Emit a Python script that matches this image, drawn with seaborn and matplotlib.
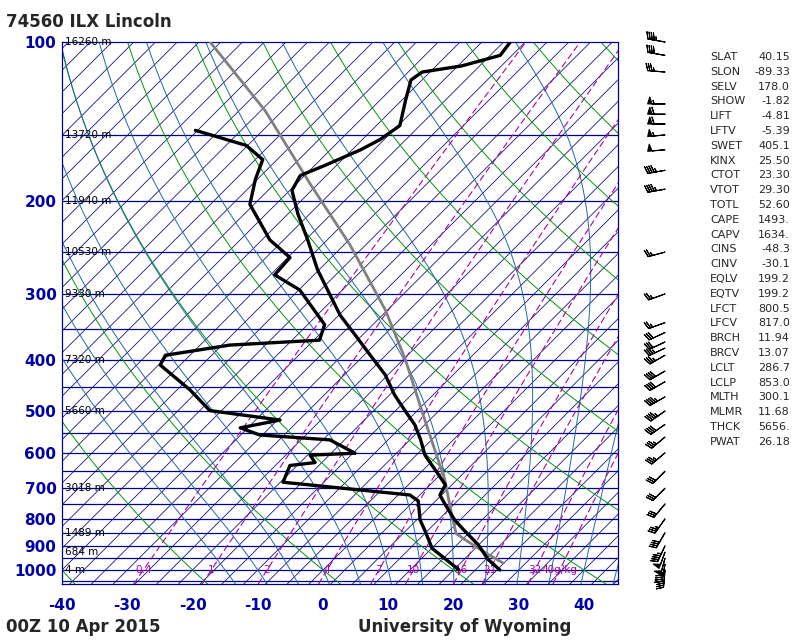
import numpy as np
import pandas as pd
import seaborn as sns
import matplotlib
matplotlib.use("Agg")
import matplotlib.pyplot as plt

sns.set_style("white")
plt.rcParams['font.family'] = ['DejaVu Sans']

# ---- sounding data ----
temp_p = [1000, 954, 897, 837, 804, 752, 721, 690, 647, 606, 567, 531, 499, 466, 427, 392, 359, 329, 302, 270, 237, 212, 191, 179, 171, 160, 153, 144, 129, 118, 114, 111, 106, 100]
temp_t = [27.1, 23.6, 20.0, 15.2, 12.5, 8.7, 6.4, 5.7, 1.9, -2.0, -5.0, -8.2, -11.9, -15.9, -20.4, -25.7, -31.1, -36.5, -41.0, -46.9, -53.0, -58.4, -63.0, -64.0, -61.7, -58.7, -57.3, -56.4, -59.4, -61.7, -61.2, -56.1, -51.8, -52.3]
dew_p = [998, 910, 841, 804, 740, 721, 682, 634, 626, 606, 601, 567, 555, 538, 520, 499, 456, 409, 392, 375, 367, 343, 295, 276, 256, 237, 203, 182, 167, 157, 147]
dew_t = [20.7, 13.4, 9.5, 7.2, 4.0, 1.8, -19.6, -21.1, -17.7, -19.6, -13.0, -18.9, -30.4, -34.5, -29.6, -41.8, -48.0, -56.4, -57.1, -48.8, -35.8, -37.4, -46.5, -52.7, -53.0, -58.8, -67.3, -70.3, -72.2, -76.9, -87.0]
parcel_p = [970, 930, 880, 853, 800, 676, 520, 400, 322, 242, 186, 135, 100]
parcel_t = [26.5, 22.5, 17.5, 14.8, 12.0, 4.9, -7.4, -19.6, -30.3, -45.8, -61.1, -79.3, -98.3]

height_p = [100, 150, 200, 250, 300, 400, 500, 700, 850, 925, 1000]
height_lbl = ["16260 m", "13720 m", "11940 m", "10530 m", "9330 m", "7320 m", "5660 m", "3018 m", "1489 m", "684 m", "4 m"]
mix_w = [0.4, 1, 2, 4, 7, 10, 16, 21, 32, 40]
mix_lbl = ["0.4", "1", "2", "4", "7", "10", "16", "21", "32", "40g/kg"]

barb_p = [100, 106, 114, 131, 137, 143, 150, 160, 175, 190, 250, 300, 340, 355, 370, 380, 392, 420, 440, 470, 500, 530, 560, 600, 650, 700, 750, 800, 850, 900, 925, 950, 975, 1000]
barb_spd = [45, 40, 35, 55, 60, 60, 55, 50, 45, 45, 25, 25, 25, 30, 30, 35, 35, 40, 40, 45, 45, 40, 35, 35, 30, 30, 30, 35, 40, 45, 50, 50, 45, 40]
barb_dir = [280, 280, 275, 270, 270, 270, 265, 265, 260, 260, 255, 250, 250, 245, 245, 245, 240, 240, 240, 240, 235, 235, 230, 230, 225, 225, 220, 215, 210, 205, 200, 195, 190, 185]

stat_names = ["SLAT", "SLON", "SELV", "SHOW", "LIFT", "LFTV", "SWET", "KINX", "CTOT", "VTOT", "TOTL", "CAPE", "CAPV", "CINS", "CINV", "EQLV", "EQTV", "LFCT", "LFCV", "BRCH", "BRCV", "LCLT", "LCLP", "MLTH", "MLMR", "THCK", "PWAT"]
stat_vals = ["40.15", "-89.33", "178.0", "-1.82", "-4.81", "-5.39", "405.1", "25.50", "23.30", "29.30", "52.60", "1493.", "1634.", "-48.3", "-30.1", "199.2", "199.2", "800.5", "817.0", "11.94", "13.07", "286.7", "853.0", "300.1", "11.68", "5656.", "26.18"]

SKEW = 81.0
def sk(t, p):
    return np.asarray(t) + SKEW * np.log10(1000.0 / np.asarray(p))

fig = plt.figure(figsize=(8, 6.4), dpi=100)
ax = fig.add_axes([62/800, 56/640, 556/800, 542/640])
ax.set_yscale('log')
ax.set_ylim(1063, 100)
ax.set_xlim(-40, 45.2)
pp = np.linspace(1063, 100, 300)

for p in range(150, 1051, 50):
    ax.axhline(p, color='#000088', lw=0.9, zorder=1)
for t in np.arange(-130, 60, 10/3):
    ax.plot(sk(np.full_like(pp, t), pp), pp, color='#000080', lw=0.55, zorder=1)
for th in range(-40, 260, 20):
    T = (th + 273.15) * (pp / 1000.0) ** 0.2857 - 273.15
    ax.plot(sk(T, pp), pp, color='#009900', lw=0.7, zorder=1)

def esat(T):
    return 6.112 * np.exp(17.67 * T / (T + 243.5))
def moist(t0):
    res = {}
    for direction in (-1, 1):
        T = t0 + 273.15
        p = 1000.0
        out = []
        while 100 <= p <= 1063:
            out.append((p, T - 273.15))
            es = esat(T - 273.15)
            rs = 0.622 * es / (p - es)
            dTdp = (287 * T + 2.5e6 * rs) / (1004 + 2.5e6**2 * rs * 0.622 / (287 * T * T)) / p
            dp = 2.0 * direction
            T += dTdp * dp
            p += dp
        res[direction] = out
    pts = sorted(res[-1] + res[1], key=lambda a: a[0])
    return np.array([a[0] for a in pts]), np.array([a[1] for a in pts])
for t0 in range(-15, 46, 5):
    mp, mt = moist(t0)
    ax.plot(sk(mt, mp), mp, color='#2266aa', lw=0.7, zorder=1)

pm = np.linspace(1063, 100, 200)
for w, lbl in zip(mix_w, mix_lbl):
    e = w * pm / (622 + w)
    le = np.log(e / 6.112)
    Td = 243.5 * le / (17.67 - le)
    ax.plot(sk(Td, pm), pm, color='#aa00aa', lw=0.8, ls=(0, (6, 3)), zorder=1)
    e1 = w * 1000 / (622 + w); l1 = np.log(e1 / 6.112)
    ax.text(243.5 * l1 / (17.67 - l1), 1000, lbl, color='#aa00aa', fontsize=7.5, ha='center', va='center', zorder=3)

dfT = pd.DataFrame({'x': sk(temp_t, temp_p), 'p': temp_p})
dfD = pd.DataFrame({'x': sk(dew_t, dew_p), 'p': dew_p})
dfP = pd.DataFrame({'x': sk(parcel_t, parcel_p), 'p': parcel_p})
sns.lineplot(data=dfP, x='x', y='p', sort=False, color='#808080', lw=2, ax=ax, zorder=4)
sns.lineplot(data=dfT, x='x', y='p', sort=False, color='black', lw=2.4, ax=ax, zorder=5)
sns.lineplot(data=dfD, x='x', y='p', sort=False, color='black', lw=2.4, ax=ax, zorder=5)

for p, l in zip(height_p, height_lbl):
    ax.text(-39.5, p, l, fontsize=7.5, va='center', ha='left', color='black', zorder=6)

ax.set_xlabel(''); ax.set_ylabel('')
ax.set_xticks(range(-40, 41, 10))
ax.set_xticklabels([str(v) for v in range(-40, 41, 10)], color='#0000aa', fontsize=11, fontweight='bold')
ax.set_yticks([100, 200, 300, 400, 500, 600, 700, 800, 900, 1000])
ax.set_yticklabels(['100', '200', '300', '400', '500', '600', '700', '800', '900', '1000'], color='#0000aa', fontsize=11, fontweight='bold')
ax.yaxis.set_minor_locator(matplotlib.ticker.NullLocator())
ax.tick_params(length=0, pad=4)
ax.tick_params(axis='x', pad=10)
for s in ax.spines.values():
    s.set_color('#000088'); s.set_linewidth(0.9)

# wind barbs
bx = fig.add_axes([635/800, 56/640, 60/800, 542/640])
bx.set_yscale('log'); bx.set_ylim(1063, 100); bx.set_xlim(0, 1)
bx.axis('off')
rad = np.deg2rad(barb_dir)
u = -np.array(barb_spd) * np.sin(rad)
v = -np.array(barb_spd) * np.cos(rad)
bx.barbs(np.full(len(barb_p), 0.5), barb_p, u, v, length=5, lw=0.8, color='black',
         sizes=dict(emptybarb=0), clip_on=False)

fig.text(6/800, 1 - 22/640, "74560 ILX Lincoln", fontsize=12, fontweight='bold', va='center')
fig.text(6/800, 1 - 627/640, "00Z 10 Apr 2015", fontsize=12, fontweight='bold', va='center')
fig.text(465/800, 1 - 627/640, "University of Wyoming", fontsize=12, fontweight='bold', va='center', ha='center')
for i, (n, v_) in enumerate(zip(stat_names, stat_vals)):
    y = 1 - (57 + i * 14.8) / 640
    fig.text(710/800, y, n, fontsize=8, va='center')
    fig.text(790/800, y, v_, fontsize=8, va='center', ha='right')

fig.savefig("out.png", dpi=100)
